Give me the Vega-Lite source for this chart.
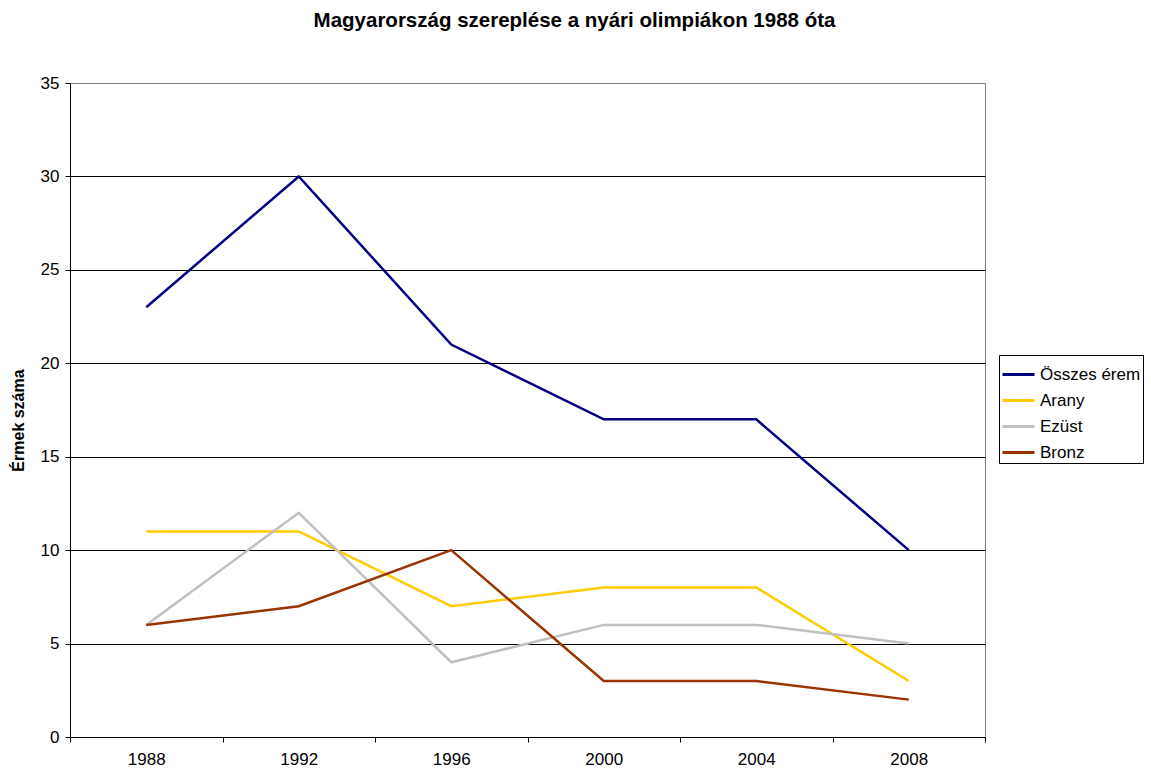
{
  "$schema": "https://vega.github.io/schema/vega-lite/v6.json",
  "width": 915,
  "height": 654,
  "autosize": {"type": "none"},
  "padding": {"left": 70, "top": 83, "right": 166, "bottom": 34},
  "background": "white",
  "title": {
    "text": "Magyarország szereplése a nyári olimpiákon 1988 óta",
    "anchor": "middle",
    "dx": 47,
    "offset": 43,
    "font": "Liberation Sans",
    "fontSize": 20.5,
    "fontWeight": "bold",
    "color": "black"
  },
  "config": {
    "view": {"stroke": "#808080", "strokeWidth": 1},
    "font": "Liberation Sans"
  },
  "data": {
    "values": [
      {"year": "1988", "series": "Összes érem", "value": 23},
      {"year": "1992", "series": "Összes érem", "value": 30},
      {"year": "1996", "series": "Összes érem", "value": 21},
      {"year": "2000", "series": "Összes érem", "value": 17},
      {"year": "2004", "series": "Összes érem", "value": 17},
      {"year": "2008", "series": "Összes érem", "value": 10},
      {"year": "1988", "series": "Arany", "value": 11},
      {"year": "1992", "series": "Arany", "value": 11},
      {"year": "1996", "series": "Arany", "value": 7},
      {"year": "2000", "series": "Arany", "value": 8},
      {"year": "2004", "series": "Arany", "value": 8},
      {"year": "2008", "series": "Arany", "value": 3},
      {"year": "1988", "series": "Ezüst", "value": 6},
      {"year": "1992", "series": "Ezüst", "value": 12},
      {"year": "1996", "series": "Ezüst", "value": 4},
      {"year": "2000", "series": "Ezüst", "value": 6},
      {"year": "2004", "series": "Ezüst", "value": 6},
      {"year": "2008", "series": "Ezüst", "value": 5},
      {"year": "1988", "series": "Bronz", "value": 6},
      {"year": "1992", "series": "Bronz", "value": 7},
      {"year": "1996", "series": "Bronz", "value": 10},
      {"year": "2000", "series": "Bronz", "value": 3},
      {"year": "2004", "series": "Bronz", "value": 3},
      {"year": "2008", "series": "Bronz", "value": 2}
    ]
  },
  "mark": {"type": "line", "strokeWidth": 2.5},
  "encoding": {
    "x": {
      "field": "year",
      "type": "ordinal",
      "scale": {"type": "band", "paddingInner": 0, "paddingOuter": 0},
      "axis": {
        "title": null,
        "labelAngle": 0,
        "labelFont": "Liberation Sans",
        "labelFontSize": 17,
        "labelColor": "black",
        "labelPadding": 9,
        "tickBand": "extent",
        "tickSize": 5,
        "tickColor": "black",
        "domainColor": "black",
        "grid": false
      }
    },
    "y": {
      "field": "value",
      "type": "quantitative",
      "scale": {"domain": [0, 35], "nice": false},
      "axis": {
        "title": "Érmek száma",
        "titleFont": "Liberation Sans",
        "titleFontSize": 16,
        "titleFontWeight": "bold",
        "titleColor": "black",
        "titleX": -52,
        "titleY": 337,
        "titleAngle": -90,
        "titleAlign": "center",
        "titleBaseline": "middle",
        "values": [0, 5, 10, 15, 20, 25, 30, 35],
        "labelFont": "Liberation Sans",
        "labelFontSize": 17,
        "labelColor": "black",
        "labelPadding": 6,
        "tickSize": 5,
        "tickColor": "black",
        "domainColor": "black",
        "grid": true,
        "gridColor": {"condition": {"test": "datum.value == 35", "value": "#808080"}, "value": "black"},
        "gridOpacity": 1
      }
    },
    "color": {
      "field": "series",
      "type": "nominal",
      "scale": {
        "domain": ["Összes érem", "Arany", "Ezüst", "Bronz"],
        "range": ["#000080", "#FFCC00", "#C0C0C0", "#993300"]
      },
      "legend": {
        "title": null,
        "orient": "none",
        "legendX": 929,
        "legendY": 272,
        "symbolType": "stroke",
        "symbolSize": 1024,
        "symbolStrokeWidth": 3,
        "labelFont": "Liberation Sans",
        "labelFontSize": 17,
        "labelColor": "black",
        "labelOffset": 4,
        "rowPadding": -3.5,
        "padding": 2,
        "strokeColor": "black",
        "fillColor": "white",
        "labelLimit": 200
      }
    }
  }
}
